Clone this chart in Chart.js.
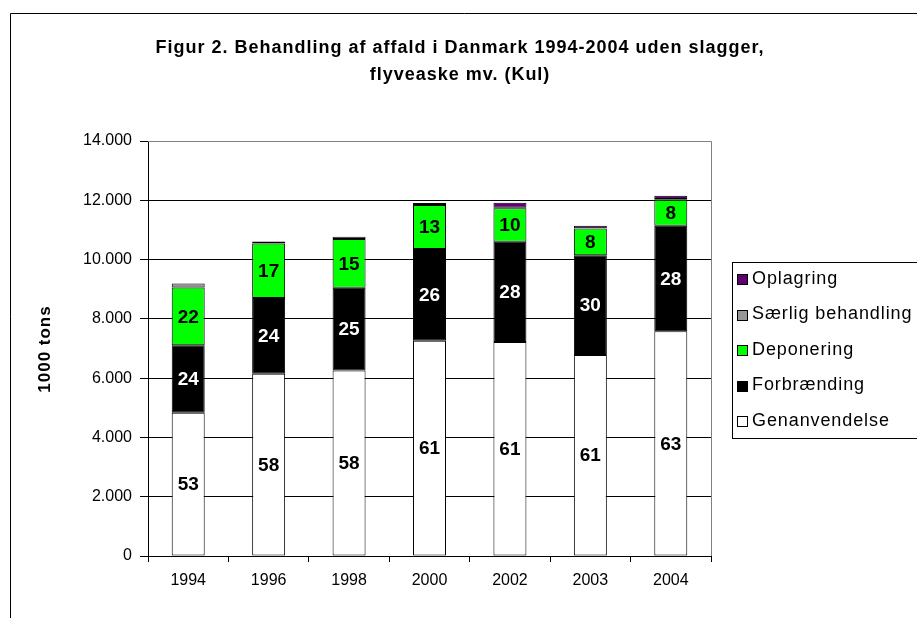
<!DOCTYPE html>
<html>
<head>
<meta charset="utf-8">
<script src="https://cdn.jsdelivr.net/npm/chart.js@4.4.1/dist/chart.umd.min.js"></script>
<style>
  html, body { margin: 0; padding: 0; background: #fff; }
  #wrap { width: 917px; height: 618px; position: relative; }
</style>
</head>
<body>
<div id="wrap"><canvas id="c" width="917" height="618"></canvas></div>
<script>
// ---- data (1000 tons) ----
const years = ['1994', '1996', '1998', '2000', '2002', '2003', '2004'];
const genanvendelse = [4830, 6150, 6260, 7260, 7220, 6780, 7580];
const forbraending  = [2280, 2550, 2790, 3100, 3380, 3370, 3560];
const deponering    = [1950, 1840, 1640, 1480, 1130, 900, 880];
const saerlig       = [130, 70, 80, 70, 20, 10, 20];
const oplagring     = [0, 0, 0, 0, 170, 80, 110];
// percentage labels printed in the bars
const genPct  = [53, 58, 58, 61, 61, 61, 63];
const forbPct = [24, 24, 25, 26, 28, 30, 28];
const depPct  = [22, 17, 15, 13, 10, 8, 8];
const yTicks = [0, 2000, 4000, 6000, 8000, 10000, 12000, 14000];
const titleLines = ['Figur 2. Behandling af affald i Danmark 1994-2004 uden slagger,', 'flyveaske mv. (Kul)'];
const yTitle = '1000 tons';

const FONT = "'Liberation Sans', Arial, sans-serif";
const fmt = v => String(v).replace(/\B(?=(\d{3})+(?!\d))/g, '.');

const pctLabels = [genPct, forbPct, depPct];
const pctColors = ['#000000', '#ffffff', '#000000'];

const decorPlugin = {
  id: 'decor',
  beforeDraw(chart) {
    const ctx = chart.ctx;
    ctx.save();
    ctx.fillStyle = '#fff';
    ctx.fillRect(0, 0, chart.width, chart.height);
    // outer frame
    ctx.strokeStyle = '#000';
    ctx.lineWidth = 1;
    ctx.beginPath();
    ctx.moveTo(10.5, chart.height + 5);
    ctx.lineTo(10.5, 13.5);
    ctx.lineTo(chart.width + 5, 13.5);
    ctx.stroke();
    // title
    ctx.fillStyle = '#000';
    ctx.font = 'bold 18px ' + FONT;
    ctx.letterSpacing = '1px';
    ctx.textAlign = 'center';
    ctx.textBaseline = 'middle';
    ctx.fillText(titleLines[0], 460, 48);
    ctx.fillText(titleLines[1], 460, 75);
    // y axis title
    ctx.translate(45, 349);
    ctx.rotate(-Math.PI / 2);
    ctx.font = 'bold 17px ' + FONT;
    ctx.letterSpacing = '1px';
    ctx.fillText(yTitle, 0, 0);
    ctx.restore();
  },
  beforeDatasetsDraw(chart) {
    const a = chart.chartArea, ctx = chart.ctx;
    ctx.save();
    ctx.strokeStyle = '#808080';
    ctx.lineWidth = 1;
    ctx.beginPath();
    ctx.moveTo(a.left, Math.round(a.top) + 0.5);
    ctx.lineTo(Math.round(a.right) + 0.5, Math.round(a.top) + 0.5);
    ctx.lineTo(Math.round(a.right) + 0.5, a.bottom);
    ctx.stroke();
    ctx.restore();
  },
  afterDatasetsDraw(chart) {
    const ctx = chart.ctx;
    ctx.save();
    ctx.font = 'bold 19px ' + FONT;
    ctx.textAlign = 'center';
    ctx.textBaseline = 'middle';
    for (let d = 0; d < 3; d++) {
      const meta = chart.getDatasetMeta(d);
      meta.data.forEach((el, i) => {
        ctx.fillStyle = pctColors[d];
        ctx.fillText(String(pctLabels[d][i]), el.x, (el.y + el.base) / 2 + 1);
      });
    }
    ctx.restore();
  },
  afterDraw(chart) {
    // legend box
    const ctx = chart.ctx;
    ctx.save();
    ctx.strokeStyle = '#000';
    ctx.lineWidth = 1;
    ctx.strokeRect(732.5, 262.5, 200, 176);
    const items = chart.data.datasets.slice().reverse();
    ctx.font = '18px ' + FONT;
    ctx.letterSpacing = '0.9px';
    ctx.textAlign = 'left';
    ctx.textBaseline = 'middle';
    items.forEach((ds, k) => {
      const cy = 279 + k * 35.5;
      ctx.fillStyle = ds.backgroundColor;
      ctx.fillRect(737, Math.round(cy - 5), 10, 10);
      ctx.strokeStyle = '#000';
      ctx.strokeRect(737.5, Math.round(cy - 5) + 0.5, 10, 10);
      ctx.fillStyle = '#000';
      ctx.fillText(ds.label, 752, cy);
    });
    ctx.restore();
  }
};

const mk = (label, data, color) => ({
  label, data, backgroundColor: color, borderColor: '#000', borderWidth: 1,
  borderSkipped: false, barPercentage: 0.41, categoryPercentage: 1.0
});

new Chart(document.getElementById('c'), {
  type: 'bar',
  data: {
    labels: years,
    datasets: [
      mk('Genanvendelse', genanvendelse, '#ffffff'),
      mk('Forbrænding', forbraending, '#000000'),
      mk('Deponering', deponering, '#00ff00'),
      mk('Særlig behandling', saerlig, '#969696'),
      mk('Oplagring', oplagring, '#600070')
    ]
  },
  options: {
    responsive: false,
    animation: false,
    devicePixelRatio: 1,
    layout: { padding: { left: 10, top: 141, right: 206, bottom: 0 } },
    plugins: { legend: { display: false }, title: { display: false }, tooltip: { enabled: false } },
    scales: {
      x: {
        stacked: true,
        afterFit(s) { s.height = 62; },
        grid: { drawOnChartArea: false, drawTicks: true, tickLength: 6, color: '#000', offset: true },
        border: { color: '#000', width: 1 },
        ticks: { color: '#000', font: { family: FONT, size: 16 }, padding: 9 }
      },
      y: {
        stacked: true,
        min: 0, max: 14000,
        afterFit(s) { s.width = 138; },
        afterBuildTicks(s) { s.ticks = yTicks.map(v => ({ value: v })); },
        grid: { color: ctx => (ctx.tick && ctx.tick.value === 14000) ? '#808080' : '#000', lineWidth: 1, tickLength: 8, tickColor: '#000' },
        border: { color: '#000', width: 1 },
        ticks: { color: '#000', font: { family: FONT, size: 16 }, padding: 8, callback: v => fmt(v) },
        title: { display: false }
      }
    }
  },
  plugins: [decorPlugin]
});
</script>
</body>
</html>
